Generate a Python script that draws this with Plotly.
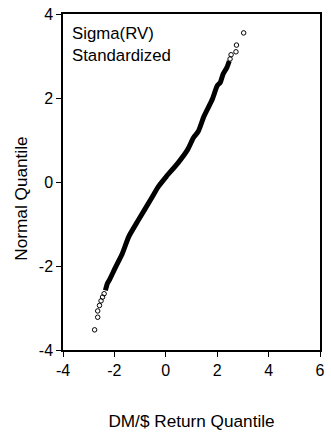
import plotly.graph_objects as go

# Dense body of the QQ plot
body_x = [-2.35, -2.27, -2.20, -1.95, -1.69, -1.44, -1.06, -0.57, -0.29,
          0.02, 0.47, 0.85, 1.08, 1.26, 1.49, 1.81, 2.00, 2.12, 2.23, 2.38, 2.47]
body_y = [-2.58, -2.41, -2.34, -2.02, -1.70, -1.30, -0.90, -0.40, -0.11,
          0.13, 0.45, 0.77, 1.06, 1.20, 1.57, 1.97, 2.29, 2.37, 2.57, 2.73, 2.88]

# Sparse tail points
tail_x = [-2.77, -2.65, -2.65, -2.58, -2.52, -2.46, -2.40,
          2.50, 2.54, 2.73, 2.75, 3.03]
tail_y = [-3.52, -3.22, -3.07, -2.94, -2.83, -2.74, -2.66,
          2.93, 3.03, 3.10, 3.26, 3.55]

x_ticks = [-4, -2, 0, 2, 4, 6]
x_labels = ["-4", "-2", "0", "2", "4", "6"]
y_ticks = [-4, -2, 0, 2, 4]
y_labels = ["-4", "-2", "0", "2", "4"]

FONT = "Liberation Sans, Arial, sans-serif"

fig = go.Figure()
fig.add_trace(go.Scatter(x=body_x, y=body_y, mode="lines",
                         line=dict(color="black", width=5, shape="spline", smoothing=0.6),
                         hoverinfo="skip", showlegend=False))
fig.add_trace(go.Scatter(x=tail_x, y=tail_y, mode="markers",
                         marker=dict(symbol="circle-open", size=4.5, color="black",
                                     line=dict(width=1, color="black")),
                         showlegend=False))

fig.add_annotation(text="Sigma(RV)<br>Standardized", xref="paper", yref="paper",
                   x=0.028, y=0.975, xanchor="left", yanchor="top", showarrow=False,
                   align="left", font=dict(family=FONT, size=16.8, color="black"))

# y-axis title, placed slightly below the plot centre as in the reference
fig.add_annotation(text="Normal Quantile", xref="paper", yref="paper",
                   x=-0.164, y=0.45, xanchor="center", yanchor="middle",
                   textangle=-90, showarrow=False,
                   font=dict(family=FONT, size=17.2, color="black"))

fig.update_layout(
    width=331, height=437,
    margin=dict(l=63, r=6, t=14, b=87),
    paper_bgcolor="white", plot_bgcolor="white",
    font=dict(family=FONT, size=16, color="black"),
    showlegend=False,
)
fig.update_xaxes(range=[-4, 6], tickvals=x_ticks, ticktext=x_labels, ticks="outside", ticklen=5,
                 tickcolor="black", showline=True, linecolor="black", linewidth=1.5,
                 mirror=True, showgrid=False, zeroline=False,
                 title=dict(text="DM/$ Return Quantile", standoff=37,
                            font=dict(family=FONT, size=17.2)))
fig.update_yaxes(range=[-4, 4], tickvals=y_ticks, ticktext=y_labels, ticks="outside", ticklen=5,
                 tickcolor="black", showline=True, linecolor="black", linewidth=1.5,
                 mirror=True, showgrid=False, zeroline=False)

fig.write_html("out.html")
